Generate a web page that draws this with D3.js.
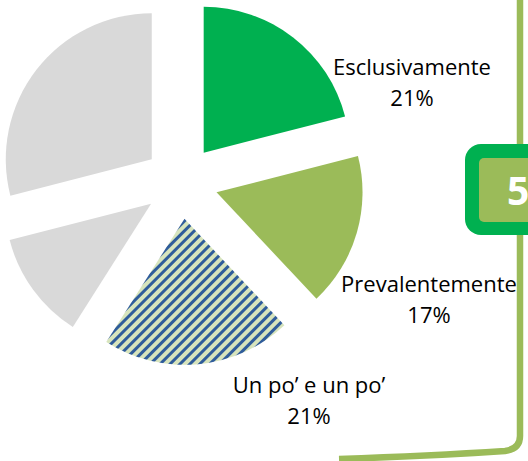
<!DOCTYPE html>
<html>
<head>
<meta charset="utf-8">
<script src="https://d3js.org/d3.v7.min.js"></script>
<style>
  body { margin: 0; background: #fff; }
  svg { display: block; }
  text { font-family: "Open Sans", sans-serif; }
</style>
</head>
<body>
<svg width="528" height="461"></svg>
<script>
// data
var categories = ["Esclusivamente", "Prevalentemente", "Un po\u2019 e un po\u2019", "Altro A", "Altro B"];
var values = [21, 17, 21, 12, 29];
var showLabel = [true, true, true, false, false];
var badgeText = "5";

// layout (not data)
var cx = 181, cy = 182, radius = 146, explode = 37;
var fills = ["#00b050", "#9bbb59", "url(#hatch)", "#d9d9d9", "#d9d9d9"];
var labelPos = [[412, 75], [429, 292], [309, 393]];
var lineGap = 31;

var svg = d3.select("svg");

// diagonal hatch for the third slice
var defs = svg.append("defs");
var pat = defs.append("pattern")
  .attr("id", "hatch")
  .attr("patternUnits", "userSpaceOnUse")
  .attr("width", 7)
  .attr("height", 7)
  .attr("patternTransform", "rotate(45)");
pat.append("rect").attr("width", 7).attr("height", 7).attr("fill", "#d7e4bd");
pat.append("rect").attr("width", 3).attr("height", 7).attr("fill", "#2f5c9a");

// side bracket line
svg.append("path")
  .attr("d", "M520,-5 V436 Q520,449 505,451 Q430,456 339,459")
  .attr("fill", "none")
  .attr("stroke", "#9bbb59")
  .attr("stroke-width", 6.5);

// badge
var badge = svg.append("g");
badge.append("rect")
  .attr("x", 465).attr("y", 144)
  .attr("width", 90).attr("height", 91)
  .attr("rx", 16)
  .attr("fill", "#00b050");
badge.append("rect")
  .attr("x", 479).attr("y", 158)
  .attr("width", 70).attr("height", 64)
  .attr("rx", 5)
  .attr("fill", "#9bbb59");
badge.append("text")
  .attr("x", 507).attr("y", 205)
  .attr("font-size", 39)
  .attr("font-weight", "bold")
  .attr("fill", "#fff")
  .text(badgeText);

// pie
var pie = d3.pie().sort(null).value(function(d) { return d; });
var arcs = pie(values);
var arc = d3.arc().innerRadius(0).outerRadius(radius);

var g = svg.append("g").attr("transform", "translate(" + cx + "," + cy + ")");

g.selectAll("path.slice")
  .data(arcs)
  .enter().append("path")
  .attr("class", "slice")
  .attr("d", arc)
  .attr("fill", function(d, i) { return fills[i]; })
  .attr("transform", function(d) {
    var a = (d.startAngle + d.endAngle) / 2;
    return "translate(" + (explode * Math.sin(a)) + "," + (-explode * Math.cos(a)) + ")";
  });

// labels
var total = d3.sum(values);
categories.forEach(function(name, i) {
  if (!showLabel[i]) return;
  var p = labelPos[i];
  var t = svg.append("text")
    .attr("text-anchor", "middle")
    .attr("font-size", 22)
    .attr("fill", "#000");
  t.append("tspan").attr("x", p[0]).attr("y", p[1]).text(name);
  t.append("tspan").attr("x", p[0]).attr("y", p[1] + lineGap)
    .text(Math.round(values[i] / total * 100) + "%");
});
</script>
</body>
</html>
